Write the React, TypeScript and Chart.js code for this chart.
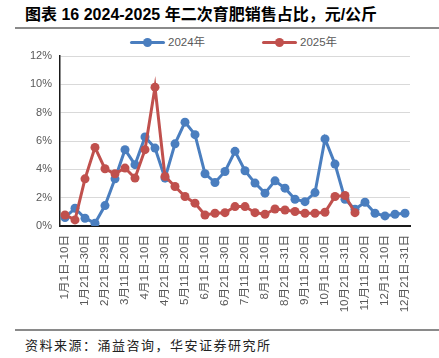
import React, { useEffect, useRef } from "react";
import { Chart, registerables } from "chart.js";

Chart.register(...registerables);

const categories = [
  "1月1日-10日", "1月11日-20日", "1月21日-30日", "2月11日-20日", "2月21日-29日",
  "3月1日-10日", "3月11日-20日", "3月21日-31日", "4月1日-10日", "4月11日-20日",
  "4月21日-30日", "5月1日-10日", "5月11日-20日", "5月21日-31日", "6月1日-10日",
  "6月11日-20日", "6月21日-30日", "7月1日-10日", "7月11日-20日", "7月21日-31日",
  "8月1日-10日", "8月11日-20日", "8月21日-31日", "9月1日-10日", "9月11日-20日",
  "9月21日-30日", "10月1日-10日", "10月11日-20日", "10月21日-31日", "11月1日-10日",
  "11月11日-20日", "11月21日-30日", "12月1日-10日", "12月11日-20日", "12月21日-31日",
];

const series2024 = [
  0.6, 1.25, 0.55, 0.2, 1.44, 3.33, 5.39, 4.33, 6.29, 5.5,
  3.38, 5.8, 7.33, 6.45, 3.69, 3.07, 3.85, 5.27, 3.9, 3.03,
  2.32, 3.19, 2.67, 1.89, 1.72, 2.36, 6.15, 4.37, 1.89, 1.18,
  1.68, 0.9, 0.71, 0.83, 0.9,
];

const series2025 = [
  0.78, 0.43, 3.33, 5.55, 4.04, 3.69, 4.09, 3.38, 5.39, 9.8,
  3.5, 2.79, 2.08, 1.61, 0.78, 0.9, 0.94, 1.37, 1.37, 0.94,
  0.83, 1.2, 1.13, 1.02, 0.9, 0.9, 0.97, 2.08, 2.15, 0.94,
];

const yTicks = [0, 2, 4, 6, 8, 10, 12];

const seriesNames = ["2024年", "2025年"];
const BLUE = "#4A7EBF";
const RED = "#C0504D";
const FONT = '"Liberation Sans", "Noto Sans CJK SC", sans-serif';

function LegendItem({ color, label, left }: { color: string; label: string; left: number }) {
  return (
    <div style={{ position: "absolute", left, top: 34, height: 16, display: "flex", alignItems: "center" }}>
      <div style={{ position: "relative", width: 35, height: 16 }}>
        <div style={{ position: "absolute", left: 0, top: 6.5, width: 35, height: 3, background: color, borderRadius: 1.5 }} />
        <div style={{ position: "absolute", left: 13, top: 3.5, width: 9, height: 9, background: color, borderRadius: "50%" }} />
      </div>
      <span style={{ marginLeft: 3, fontFamily: FONT, fontSize: 11.5, color: "#595959", lineHeight: "16px" }}>{label}</span>
    </div>
  );
}

export default function App() {
  const canvasRef = useRef<HTMLCanvasElement | null>(null);

  useEffect(() => {
    if (!canvasRef.current) return;
    const chart = new Chart(canvasRef.current, {
      type: "line",
      data: {
        labels: categories,
        datasets: [
          {
            label: seriesNames[0],
            data: series2024,
            borderColor: BLUE,
            backgroundColor: BLUE,
            borderWidth: 3,
            pointRadius: 4.5,
            pointBorderWidth: 0,
            pointBackgroundColor: BLUE,
            tension: 0,
            order: 1,
          },
          {
            label: seriesNames[1],
            data: series2025,
            borderColor: RED,
            backgroundColor: RED,
            borderWidth: 3,
            pointRadius: 4.5,
            pointBorderWidth: 0,
            pointBackgroundColor: RED,
            tension: 0,
            order: 0,
          },
        ],
      },
      options: {
        animation: false,
        responsive: false,
        maintainAspectRatio: false,
        layout: { padding: { top: 26, left: 0, right: 29, bottom: 0 } },
        plugins: {
          legend: { display: false },
          tooltip: { enabled: false },
          title: { display: false },
        },
        scales: {
          x: {
            type: "category",
            offset: true,
            grid: { display: false, drawTicks: false },
            border: { display: true, color: "#1a1a1a", width: 2 },
            ticks: {
              autoSkip: false,
              maxRotation: 90,
              minRotation: 90,
              padding: 9,
              color: "#595959",
              font: { family: FONT, size: 11.6 },
              callback: (_v: any, idx: number) => (idx % 2 === 0 ? categories[idx] : ""),
            },
            afterFit: (scale: any) => {
              scale.height = 102;
            },
          },
          y: {
            min: 0,
            max: 12,
            afterBuildTicks: (scale: any) => {
              scale.ticks = yTicks.map((v) => ({ value: v }));
            },
            grid: { color: "#D9D9D9", lineWidth: 1, drawTicks: false },
            border: { display: true, color: "#1a1a1a", width: 1.5 },
            ticks: {
              padding: 8,
              color: "#595959",
              font: { family: FONT, size: 11 },
              callback: (v: any) => `${v}%`,
            },
            afterFit: (scale: any) => {
              scale.width = 60;
            },
          },
        },
      },
    });
    return () => chart.destroy();
  }, []);

  return (
    <div style={{ position: "absolute", left: 0, top: 0, width: 439, height: 358, background: "#fff", overflow: "hidden" }}>
      <div
        style={{
          position: "absolute",
          left: 25,
          top: 4,
          fontFamily: '"Liberation Sans", "Noto Sans CJK SC", sans-serif',
          fontWeight: 700,
          fontSize: 16,
          lineHeight: "22px",
          color: "#000",
          whiteSpace: "nowrap",
        }}
      >
        图表 16 2024-2025 年二次育肥销售占比，元/公斤
      </div>
      <div style={{ position: "absolute", left: 15, top: 27, width: 424, height: 2, background: "#8a8a8a" }} />
      <LegendItem color={BLUE} label={seriesNames[0]} left={130} />
      <LegendItem color={RED} label={seriesNames[1]} left={262} />
      <canvas ref={canvasRef} width={439} height={298} style={{ position: "absolute", left: 0, top: 30, width: 439, height: 298 }} />
      <div style={{ position: "absolute", left: 15, top: 329, width: 424, height: 2, background: "#8a8a8a" }} />
      <div
        style={{
          position: "absolute",
          left: 25,
          top: 336,
          fontFamily: '"Noto Sans CJK SC", sans-serif',
          fontSize: 13,
          letterSpacing: 1.5,
          lineHeight: "18px",
          color: "#222",
          whiteSpace: "nowrap",
        }}
      >
        资料来源：涌益咨询，华安证券研究所
      </div>
    </div>
  );
}
